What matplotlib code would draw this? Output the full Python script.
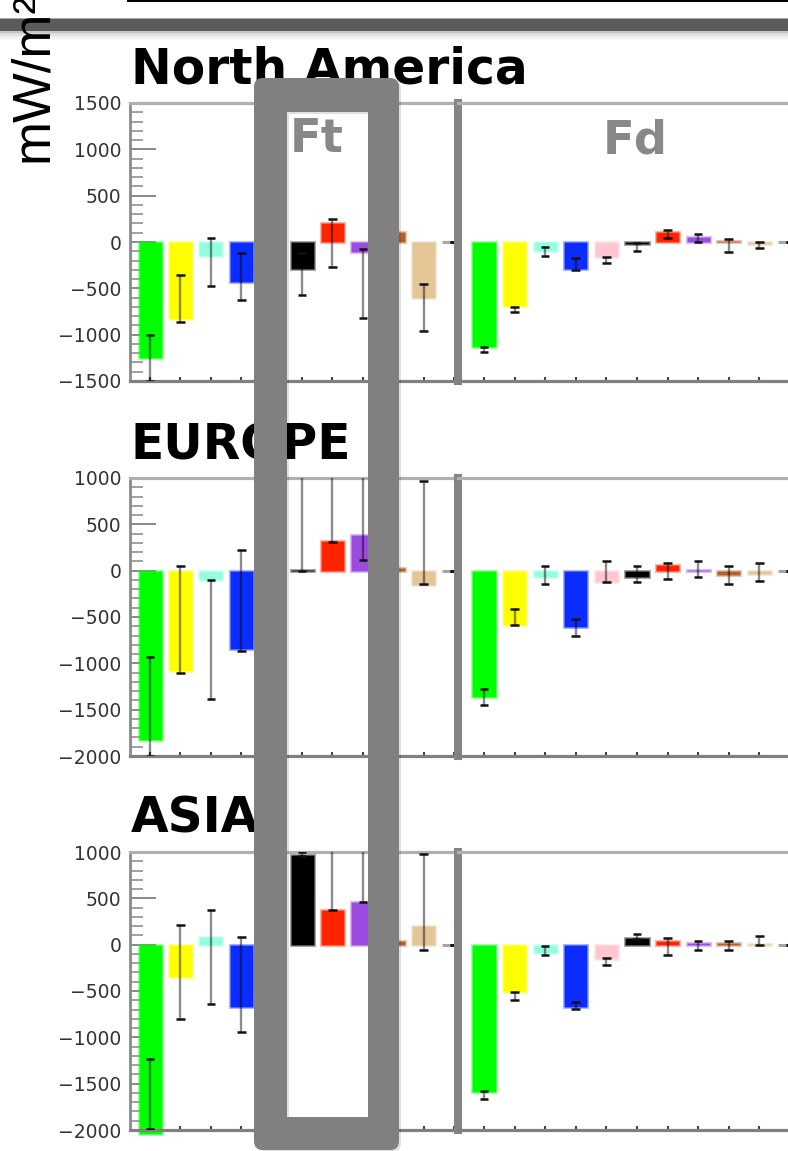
import numpy as np
import matplotlib
matplotlib.use("Agg")
import matplotlib.pyplot as plt
from matplotlib.patches import Rectangle, PathPatch, BoxStyle
from matplotlib.path import Path
from matplotlib.transforms import Affine2D
from matplotlib.ticker import FixedLocator, MultipleLocator
from matplotlib.colors import to_rgba

W, H, DPI = 788, 1151, 100

# ---- data -------------------------------------------------------------
bar_colors = ["#00ff00", "#ffff00", "#93ffdf", "#0a2cff", "#ffc8d0",
              "#000000", "#ff2400", "#9b4be0", "#b4602a", "#e4c596", "#000000"]

regions = ["North America", "EUROPE", "ASIA"]
y_limits = [(-1500, 1500), (-2000, 1000), (-2000, 1000)]
y_major = [[-1500, -1000, -500, 0, 500, 1000, 1500],
           [-2000, -1500, -1000, -500, 0, 500, 1000],
           [-2000, -1500, -1000, -500, 0, 500, 1000]]

# Ft (total forcing): bar value, lower and upper end of the range bar
na_ft    = [-1257, -836, -156, -437, -250, -286, 210, -113, 108, -599, 0]
na_ft_lo = [-1495, -868, -480, -631, -420, -577, -275, -825, 80, -965, 0]
na_ft_hi = [-1000, -361, 38, -124, -90, -120, 243, -80, 130, -448, 0]

eu_ft    = [-1823, -1079, -97, -841, -150, 10, 324, 388, 30, -150, 0]
eu_ft_lo = [-2000, -1100, -1390, -863, -300, -5, 305, 118, 10, -140, 0]
eu_ft_hi = [-930, 46, -105, 226, 100, 1400, 1400, 1400, 60, 970, 0]

as_ft    = [-2040, -345, 79, -669, -150, 971, 378, 456, 40, 197, 0]
as_ft_lo = [-1985, -800, -636, -944, -300, 960, 378, 465, 20, -54, 0]
as_ft_hi = [-1230, 208, 378, 79, 50, 1000, 1400, 1400, 60, 982, 0]

# Fd (direct forcing)
na_fd    = [-1138, -696, -92, -286, -167, -20, 106, 49, 16, -20, 0]
na_fd_lo = [-1192, -760, -146, -307, -226, -97, 38, -5, -113, -70, 0]
na_fd_hi = [-1130, -706, -49, -178, -167, -10, 127, 81, 32, 0, 0]

eu_fd    = [-1359, -583, -65, -611, -126, -70, 65, 5, -50, -40, 0]
eu_fd_lo = [-1445, -583, -144, -701, -126, -125, -86, -65, -144, -108, 0]
eu_fd_hi = [-1273, -410, 54, -518, 108, 50, 86, 108, 54, 86, 0]

as_fd    = [-1590, -514, -92, -670, -154, 75, 35, 20, 15, 10, 0]
as_fd_lo = [-1667, -593, -110, -690, -216, 60, -108, -61, -61, -6, 0]
as_fd_hi = [-1578, -514, -18, -622, -144, 119, 68, 40, 40, 90, 0]

ft_rows = [(na_ft, na_ft_lo, na_ft_hi), (eu_ft, eu_ft_lo, eu_ft_hi), (as_ft, as_ft_lo, as_ft_hi)]
fd_rows = [(na_fd, na_fd_lo, na_fd_hi), (eu_fd, eu_fd_lo, eu_fd_hi), (as_fd, as_fd_lo, as_fd_hi)]

# ---- figure -------------------------------------------------------------
fig = plt.figure(figsize=(W / DPI, H / DPI), dpi=DPI)
fig.patch.set_facecolor("white")
px = Affine2D().scale(1 / W, -1 / H).translate(0, 1) + fig.transFigure


def axes_px(left, top, right, bottom):
    return fig.add_axes([left / W, 1 - bottom / H, (right - left) / W, (bottom - top) / H])


def draw_bars(ax, vals, lo, hi):
    x = np.arange(len(vals))
    halo = [to_rgba(c, 0.35) for c in bar_colors]
    ax.bar(x, vals, width=0.76, color=bar_colors, edgecolor=halo,
           linewidth=2.2, zorder=2, clip_on=False)
    ax.vlines(x, lo, hi, colors="k", alpha=0.45, linewidth=1.7, zorder=3)
    cap = 0.14
    ax.hlines(lo, x - cap, x + cap, colors="#111111", linewidth=1.8, zorder=3)
    ax.hlines(hi, x - cap, x + cap, colors="#111111", linewidth=1.8, zorder=3)
    ax.set_xticks(x)
    ax.tick_params(axis="x", direction="in", length=3, width=1.5, color="#444444",
                   labelbottom=False, top=False)


row_tops = [103, 478, 852]
panel_h = 278
for i, top in enumerate(row_tops):
    bottom = top + panel_h
    ax_t = axes_px(130, top, 458, bottom)
    ax_d = axes_px(458, top, 800, bottom)
    for ax in (ax_t, ax_d):
        ax.set_axisbelow(True)
        ax.set_ylim(*y_limits[i])
        ax.spines["top"].set_color("#b0b0b0")
        ax.spines["top"].set_linewidth(2.3)
        ax.spines["bottom"].set_color("#808080")
        ax.spines["bottom"].set_linewidth(2.3)
        ax.spines["right"].set_visible(False)
    ax_t.set_xlim(-0.66, 10.13)
    ax_d.set_xlim(-0.85, 10.33)

    draw_bars(ax_t, *ft_rows[i])
    draw_bars(ax_d, *fd_rows[i])

    ax_t.spines["left"].set_color("#8a8a8a")
    ax_t.spines["left"].set_linewidth(2.0)
    ax_t.yaxis.set_major_locator(FixedLocator(y_major[i]))
    ax_t.yaxis.set_minor_locator(MultipleLocator(100))
    ax_t.tick_params(axis="y", which="major", direction="in", length=19, width=1.4,
                     color="#8a8a8a", labelsize=13.5, labelcolor="#333333", pad=6,
                     right=False)
    ax_t.tick_params(axis="y", which="minor", direction="in", length=9, width=1.3,
                     color="#9a9a9a", right=False)

    ax_d.spines["left"].set_color("#848484")
    ax_d.spines["left"].set_linewidth(5.8)
    ax_d.set_yticks([])
    ax_d.tick_params(axis="y", which="both", left=False, right=False)

# region titles
title_baselines = [84, 460, 833]
for name, yb in zip(regions, title_baselines):
    fig.text(131, yb, name, transform=px, fontsize=35, fontweight="bold",
             family="DejaVu Sans", ha="left", va="baseline", color="black")

# panel labels
fig.text(290, 152, "Ft", transform=px, fontsize=33.5, fontweight="bold",
         family="DejaVu Sans", color="#888888", ha="left", va="baseline", zorder=5)
fig.text(603, 153, "Fd", transform=px, fontsize=33.5, fontweight="bold",
         family="DejaVu Sans", color="#888888", ha="left", va="baseline", zorder=5)

# header rules
fig.add_artist(Rectangle((127, 0), 661, 1.6, transform=px, color="black", lw=0))
for k, a in enumerate([0.22, 0.16, 0.11, 0.07, 0.04, 0.02]):
    fig.add_artist(Rectangle((0, 31 + k * 1.5), W, 1.5, transform=px,
                             color="black", alpha=a, lw=0))
fig.add_artist(Rectangle((0, 18), W, 13, transform=px, color="#5b5b5b", lw=0))
fig.add_artist(Rectangle((0, 17.5), W, 1.2, transform=px, color="#a8a8a8", lw=0))

# unit label
fig.text(33, 77, "mW/m²", transform=px, rotation=90, fontsize=38,
         family="Liberation Sans", ha="center", va="center", color="black", zorder=6)

# highlight frame around the Ft columns
outer = BoxStyle.Round(pad=0, rounding_size=9)(254, 78, 145, 1072, 1.0)
outer_poly = outer.to_polygons()[0]
ox, oy = outer_poly[:, 0], outer_poly[:, 1]
outer_area = 0.5 * np.sum(ox * np.roll(oy, -1) - np.roll(ox, -1) * oy)
inner_v = np.array([(287, 112), (368, 112), (368, 1117), (287, 1117)], float)
ix, iy = inner_v[:, 0], inner_v[:, 1]
inner_area = 0.5 * np.sum(ix * np.roll(iy, -1) - np.roll(ix, -1) * iy)
if np.sign(inner_area) == np.sign(outer_area):
    inner_v = inner_v[::-1]
inner = Path(np.vstack([inner_v, inner_v[:1]]),
             [Path.MOVETO] + [Path.LINETO] * 3 + [Path.CLOSEPOLY])
frame = Path.make_compound_path(Path(outer_poly), inner)

shadow = PathPatch(frame, transform=Affine2D().translate(2, 2) + px,
                   facecolor="black", alpha=0.12, lw=0, zorder=9)
fig.add_artist(shadow)
fig.add_artist(PathPatch(frame, transform=px, facecolor="#808080", lw=0, zorder=10))

fig.savefig("out.png", dpi=DPI)
